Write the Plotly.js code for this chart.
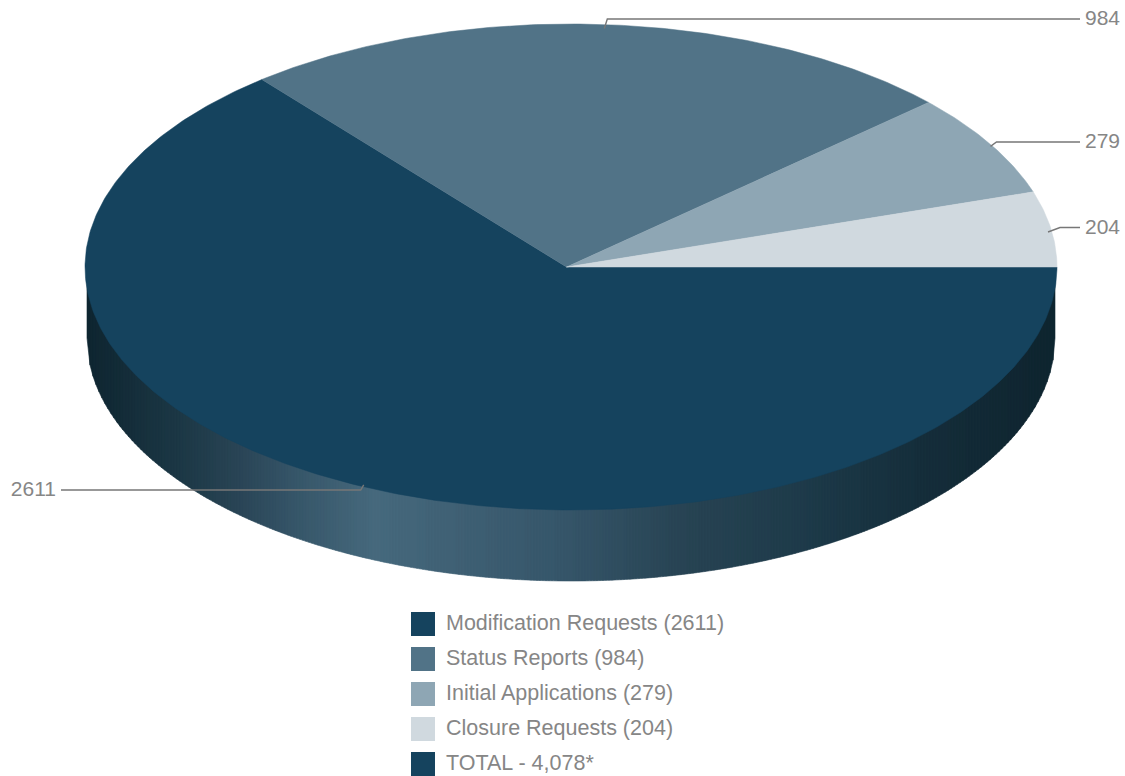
<!DOCTYPE html>
<html>
<head>
<meta charset="utf-8">
<script src="https://cdn.plot.ly/plotly-3.0.1.min.js"></script>
<style>html,body{margin:0;padding:0;background:#fff;overflow:hidden}#chart{width:1125px;height:776px}</style>
</head>
<body>
<div id="chart"></div>
<script>
// ---- data ----
const categories = ["Modification Requests", "Status Reports", "Initial Applications", "Closure Requests"];
const values = [2611, 984, 279, 204];
const colors = ["#15435e", "#517387", "#8ea6b4", "#d0d9df"];

// ---- drawing constants (pixel space) ----
const W = 1125, H = 776;
const rim = {cx: 571, cy: 267, rx: 486, ry: 243};
const apex = {x: 566.5, y: 267};
const wall = {cx: 571, cy: 338, rx: 484, ry: 243, topY: 267};
const wallStopX = [87, 190, 240, 300, 375, 460, 560, 680, 800, 920, 1040, 1055];
const wallStopC = ["#0e2530", "#1e3a48", "#2a4556", "#37576a", "#46697d", "#3f6074", "#36566a", "#284454", "#1e3b4a", "#152e3b", "#0f2530", "#0e2530"];
const textColor = "#868686", lineColor = "#777777";
const fontFamily = "Liberation Sans, Arial, sans-serif";
const labelFont = {family: fontFamily, size: 21, color: textColor};
const keyFont = {family: fontFamily, size: 21.5, color: textColor};

const total = values.reduce((a, b) => a + b, 0);
const traces = [];

function hexToRgb(h) { return [1, 3, 5].map(i => parseInt(h.slice(i, i + 2), 16)); }
function wallColor(x) {
  let i = 0;
  while (i < wallStopX.length - 2 && x > wallStopX[i + 1]) i++;
  const t = Math.max(0, Math.min(1, (x - wallStopX[i]) / (wallStopX[i + 1] - wallStopX[i])));
  const a = hexToRgb(wallStopC[i]), b = hexToRgb(wallStopC[i + 1]);
  return "rgb(" + a.map((v, k) => Math.round(v + (b[k] - v) * t)).join(",") + ")";
}
function wallBottom(x) {
  const u = Math.max(0, 1 - Math.pow((x - wall.cx) / wall.rx, 2));
  return wall.cy + wall.ry * Math.sqrt(u);
}

// side wall: narrow vertical strips carrying the horizontal gradient
const step = 3;
for (let x0 = wall.cx - wall.rx; x0 < wall.cx + wall.rx; x0 += step) {
  const x1 = Math.min(x0 + step, wall.cx + wall.rx);
  const c = wallColor((x0 + x1) / 2);
  const xs = [x0, x0, x1, x1, x0], ys = [wall.topY, wallBottom(x0), wallBottom(x1), wall.topY, wall.topY];
  traces.push({type: "scatter", mode: "lines", x: xs, y: ys, fill: "toself", fillcolor: c,
    line: {color: c, width: 0.6}, hoverinfo: "skip", showlegend: false});
}

// top face: wedges clockwise from 3 o'clock, angles from the values
let cum = 0;
const midAngles = [];
values.forEach((v, i) => {
  const a0 = cum / total * 2 * Math.PI;
  cum += v;
  const a1 = cum / total * 2 * Math.PI;
  midAngles.push((a0 + a1) / 2);
  const xs = [apex.x], ys = [apex.y];
  const n = Math.max(4, Math.ceil((a1 - a0) / 0.01));
  for (let k = 0; k <= n; k++) {
    const a = a0 + (a1 - a0) * k / n;
    xs.push(rim.cx + rim.rx * Math.cos(a));
    ys.push(rim.cy + rim.ry * Math.sin(a));
  }
  xs.push(apex.x); ys.push(apex.y);
  traces.push({type: "scatter", mode: "lines", x: xs, y: ys, fill: "toself", fillcolor: colors[i],
    line: {color: colors[i], width: 0.5}, name: categories[i], hoverinfo: "name", showlegend: false});
});

// leader lines and value labels
const leaderY = [490, 19, 142, 227.5];
const leaderEndX = [61, 1080, 1080, 1080];
const leaderKnee = [3, 3, 6, 9];
const leaderInset = [2, 4, 2, 3];
const labelNudgeY = [1, 1, 1, 1];
values.forEach((v, i) => {
  const ax = rim.cx + rim.rx * Math.cos(midAngles[i]);
  const ay = rim.cy + rim.ry * Math.sin(midAngles[i]);
  const left = leaderEndX[i] < ax;
  const startY = ay + (ay < rim.cy ? leaderInset[i] : -leaderInset[i]);
  traces.push({type: "scatter", mode: "lines", x: [ax - (i === 3 ? 3 : 0), ax + (left ? -leaderKnee[i] : leaderKnee[i]), leaderEndX[i]],
    y: [startY, leaderY[i], leaderY[i]],
    line: {color: lineColor, width: 1.4}, hoverinfo: "skip", showlegend: false});
  traces.push({type: "scatter", mode: "text", x: [leaderEndX[i] + (left ? -5 : 5)], y: [leaderY[i] + labelNudgeY[i]],
    text: [String(v)], textposition: left ? "middle left" : "middle right",
    textfont: labelFont, hoverinfo: "skip", showlegend: false, cliponaxis: false});
});

// key: swatches plus real text
const legendLabels = categories.map((c, i) => c + " (" + values[i] + ")")
  .concat("TOTAL - " + total.toLocaleString("en-US") + "*");
const legendColors = colors.concat(colors[0]);
const legendY = legendLabels.map((_, i) => 624 + 35 * i);
traces.push({type: "scatter", mode: "markers", x: legendLabels.map(() => 423), y: legendY,
  marker: {symbol: "square", size: 24, color: legendColors, line: {width: 0}},
  hoverinfo: "skip", showlegend: false, cliponaxis: false});
traces.push({type: "scatter", mode: "text", x: legendLabels.map(() => 446), y: legendY.map(y => y + 0.5), text: legendLabels,
  textposition: "middle right", textfont: keyFont, hoverinfo: "skip", showlegend: false, cliponaxis: false});

Plotly.newPlot("chart", traces, {
  width: W, height: H,
  margin: {l: 0, r: 0, t: 0, b: 0, pad: 0},
  paper_bgcolor: "#ffffff", plot_bgcolor: "#ffffff",
  showlegend: false,
  xaxis: {range: [0, W], visible: false, fixedrange: true},
  yaxis: {range: [H, 0], visible: false, fixedrange: true}
}, {displayModeBar: false, staticPlot: true});
</script>
</body>
</html>
